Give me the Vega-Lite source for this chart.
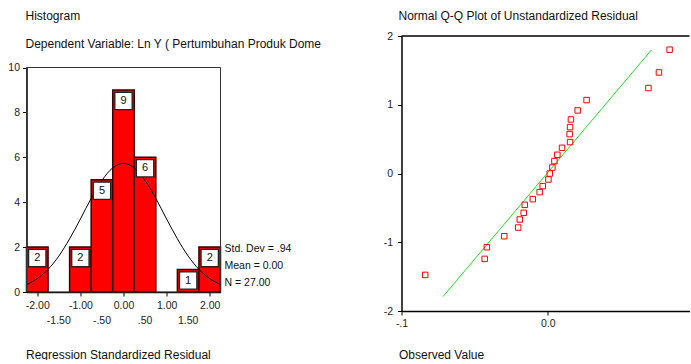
{
  "$schema": "https://vega.github.io/schema/vega-lite/v6.json",
  "background": "white",
  "padding": {"left": 7.5, "top": 10, "right": 0, "bottom": 0},
  "spacing": 181,
  "bounds": "flush",
  "config": {
    "view": {"stroke": null},
    "font": "Liberation Sans",
    "axis": {"labelFont": "Liberation Sans", "labelFontSize": 10.5, "labelColor": "#222", "domainColor": "#000", "domainWidth": 1.5, "tickColor": "#000", "tickSize": 4, "grid": false, "labelOverlap": false, "labelFlush": false, "titleFont": "Liberation Sans", "titleFontSize": 12, "titleFontWeight": "normal", "titleColor": "#111"},
    "title": {"font": "Liberation Sans", "fontSize": 12, "fontWeight": "normal", "color": "#111", "anchor": "start", "frame": "group", "subtitleFont": "Liberation Sans", "subtitleFontSize": 12, "subtitleColor": "#111"}
  },
  "hconcat": [
    {
      "width": 194,
      "height": 275,
      "title": {"text": "Histogram", "subtitle": "Dependent Variable: Ln Y ( Pertumbuhan Produk Dome", "subtitlePadding": 16, "offset": -15, "dx": -1},
      "layer": [
        {
          "data": {"values": [
            {"lo": -2.25, "hi": -1.75, "mid": -2.0, "count": 2},
            {"lo": -1.25, "hi": -0.75, "mid": -1.0, "count": 2},
            {"lo": -0.75, "hi": -0.25, "mid": -0.5, "count": 5},
            {"lo": -0.25, "hi": 0.25, "mid": 0.0, "count": 9},
            {"lo": 0.25, "hi": 0.75, "mid": 0.5, "count": 6},
            {"lo": 1.25, "hi": 1.75, "mid": 1.5, "count": 1},
            {"lo": 1.75, "hi": 2.25, "mid": 2.0, "count": 2}
          ]},
          "mark": {"type": "rect", "fill": "#ff0000", "stroke": "#3a0000", "strokeWidth": 1.5},
          "encoding": {
            "x": {"field": "lo", "type": "quantitative",
              "scale": {"domain": [-2.25, 2.25], "nice": false, "zero": false},
              "axis": {
                "values": [-2, -1.5, -1, -0.5, 0, 0.5, 1, 1.5, 2],
                "offset": -19,
                "labelOverlap": false,
                "labelExpr": "abs(round(datum.value * 2)) % 2 == 1 ? '' : (datum.value < 0 ? '-' : '') + format(abs(datum.value), '.2f')",
                "labelPadding": 4,
                "title": "Regression Standardized Residual",
                "titleAnchor": "start", "titleAlign": "left", "titleBaseline": "middle", "titleX": -1, "titleY": 62
              }},
            "x2": {"field": "hi"},
            "y": {"field": "count", "type": "quantitative",
              "scale": {"domain": [0, 10], "range": [256, 31.5], "nice": false, "zero": false},
              "axis": {"values": [0, 2, 4, 6, 8, 10], "labelExpr": "'' + datum.value", "labelPadding": 3, "title": null}},
            "y2": {"datum": 0}
          }
        },
        {
          "data": {"values": [
            {"v": -1.5, "label": "-1.50"},
            {"v": -0.5, "label": "-.50"},
            {"v": 0.5, "label": ".50"},
            {"v": 1.5, "label": "1.50"}
          ]},
          "mark": {"type": "text", "baseline": "middle", "align": "center", "dy": 29, "fontSize": 10.5, "color": "#222"},
          "encoding": {
            "x": {"field": "v", "type": "quantitative"},
            "y": {"datum": 0},
            "text": {"field": "label", "type": "nominal"}
          }
        },
        {
          "data": {"values": [
            {"x": -2.25, "y": 0.33}, {"x": -2.0, "y": 0.60}, {"x": -1.75, "y": 1.01}, {"x": -1.5, "y": 1.60},
            {"x": -1.25, "y": 2.37}, {"x": -1.0, "y": 3.25}, {"x": -0.75, "y": 4.17}, {"x": -0.5, "y": 4.97},
            {"x": -0.25, "y": 5.53}, {"x": 0.0, "y": 5.73}, {"x": 0.25, "y": 5.53}, {"x": 0.5, "y": 4.97},
            {"x": 0.75, "y": 4.17}, {"x": 1.0, "y": 3.25}, {"x": 1.25, "y": 2.37}, {"x": 1.5, "y": 1.60},
            {"x": 1.75, "y": 1.01}, {"x": 2.0, "y": 0.60}, {"x": 2.25, "y": 0.33}
          ]},
          "mark": {"type": "line", "color": "#000", "strokeWidth": 1, "interpolate": "monotone"},
          "encoding": {
            "x": {"field": "x", "type": "quantitative"},
            "y": {"field": "y", "type": "quantitative"}
          }
        },
        {
          "data": {"values": [
            {"mid": -2.0, "count": 2}, {"mid": -1.0, "count": 2}, {"mid": -0.5, "count": 5},
            {"mid": 0.0, "count": 9}, {"mid": 0.5, "count": 6}, {"mid": 1.5, "count": 1}, {"mid": 2.0, "count": 2}
          ]},
          "layer": [
            {
              "mark": {"type": "point", "shape": "square", "size": 300, "filled": true, "fill": "white", "stroke": "#222", "strokeWidth": 1.3, "opacity": 1, "yOffset": 11},
              "encoding": {
                "x": {"field": "mid", "type": "quantitative"},
                "y": {"field": "count", "type": "quantitative"}
              }
            },
            {
              "mark": {"type": "text", "fontSize": 11, "baseline": "middle", "align": "center", "color": "#111", "yOffset": 11},
              "encoding": {
                "x": {"field": "mid", "type": "quantitative"},
                "y": {"field": "count", "type": "quantitative"},
                "text": {"field": "count", "type": "nominal"}
              }
            }
          ]
        },
        {
          "data": {"values": [{}]},
          "mark": {"type": "rect", "fill": null, "stroke": "#333", "strokeWidth": 1},
          "encoding": {
            "x": {"datum": -2.25}, "x2": {"datum": 2.25},
            "y": {"datum": 0}, "y2": {"datum": 10}
          }
        },
        {
          "data": {"values": [{"label": ["Std. Dev = .94", "Mean = 0.00", "N = 27.00"]}]},
          "mark": {"type": "text", "align": "left", "baseline": "top", "dx": 4, "dy": -3, "fontSize": 10.5, "lineHeight": 17, "color": "#111"},
          "encoding": {
            "x": {"datum": 2.25},
            "y": {"datum": 2},
            "text": {"field": "label", "type": "nominal"}
          }
        }
      ]
    },
    {
      "width": 288,
      "height": 275,
      "title": {"text": "Normal Q-Q Plot of Unstandardized Residual", "offset": 8, "dx": -3},
      "layer": [
        {
          "data": {"values": [{}]},
          "mark": {"type": "rule", "color": "#000", "strokeWidth": 1.5},
          "encoding": {"y": {"datum": 2}}
        },
        {
          "data": {"values": [
            {"observed": -0.0716, "expected": -1.79},
            {"observed": 0.0709, "expected": 1.796}
          ]},
          "mark": {"type": "line", "color": "#22dd22", "strokeWidth": 1},
          "encoding": {
            "x": {"field": "observed", "type": "quantitative"},
            "y": {"field": "expected", "type": "quantitative"}
          }
        },
        {
          "data": {"values": [
            {"observed": -0.0838, "expected": -1.475},
            {"observed": -0.0431, "expected": -1.242},
            {"observed": -0.0416, "expected": -1.072},
            {"observed": -0.0297, "expected": -0.912},
            {"observed": -0.0202, "expected": -0.786},
            {"observed": -0.0191, "expected": -0.669},
            {"observed": -0.0164, "expected": -0.572},
            {"observed": -0.0157, "expected": -0.456},
            {"observed": -0.0102, "expected": -0.373},
            {"observed": -0.0055, "expected": -0.271},
            {"observed": -0.0034, "expected": -0.184},
            {"observed": 0.0005, "expected": -0.087},
            {"observed": 0.0014, "expected": 0.0},
            {"observed": 0.0032, "expected": 0.087},
            {"observed": 0.0046, "expected": 0.180},
            {"observed": 0.0066, "expected": 0.272},
            {"observed": 0.0098, "expected": 0.374},
            {"observed": 0.0153, "expected": 0.457},
            {"observed": 0.0150, "expected": 0.573},
            {"observed": 0.0153, "expected": 0.675},
            {"observed": 0.0159, "expected": 0.786},
            {"observed": 0.0205, "expected": 0.917},
            {"observed": 0.0266, "expected": 1.068},
            {"observed": 0.0689, "expected": 1.243},
            {"observed": 0.0761, "expected": 1.470},
            {"observed": 0.0834, "expected": 1.801}
          ]},
          "mark": {"type": "point", "shape": "square", "size": 30, "filled": false, "stroke": "#ff0000", "strokeWidth": 1, "opacity": 1},
          "encoding": {
            "x": {"field": "observed", "type": "quantitative",
              "scale": {"domain": [-0.1, 0.097], "nice": false, "zero": false},
              "axis": {"values": [-0.1, 0], "labelExpr": "datum.value == 0 ? '0.0' : '-.1'", "labelPadding": 3,
                "title": "Observed Value", "titleAnchor": "start", "titleAlign": "left", "titleBaseline": "middle", "titleX": -3, "titleY": 43}},
            "y": {"field": "expected", "type": "quantitative",
              "scale": {"domain": [-2, 2], "nice": false, "zero": false},
              "axis": {"values": [-2, -1, 0, 1, 2], "labelExpr": "'' + datum.value", "labelPadding": 5, "title": null}}
          }
        }
      ]
    }
  ]
}
